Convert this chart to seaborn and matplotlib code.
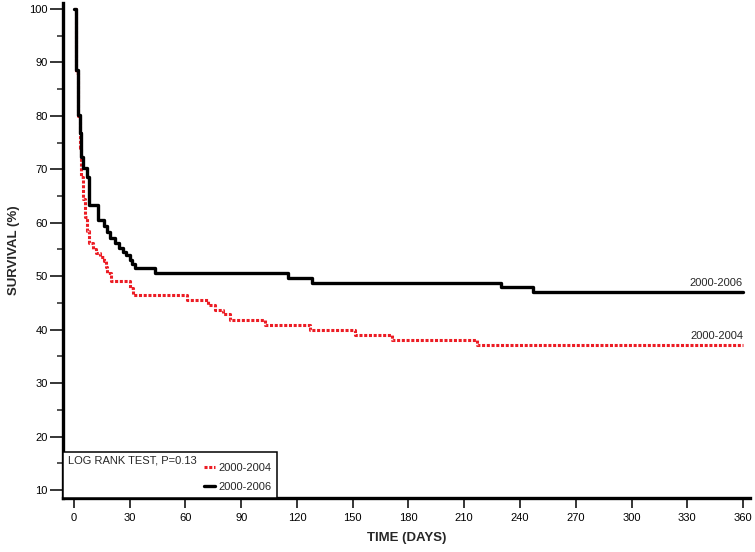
import matplotlib
matplotlib.use("Agg")
import matplotlib.pyplot as plt
from matplotlib.lines import Line2D
from matplotlib.patches import Rectangle
import seaborn as sns
import pandas as pd

# --- DADOS ---
days_2006 = [0, 1, 2, 3, 4, 5, 7, 8, 13, 16, 18, 19.5, 22, 24.5, 26.5, 28, 30, 31.5, 33,
             43.5, 115, 128, 230, 247, 360]
surv_2006 = [100, 88.6, 80.2, 76.8, 72.3, 70.2, 68.6, 63.3, 60.5, 59.3, 58.2, 57.1, 56.2, 55.2,
             54.6, 54.0, 53.0, 52.3, 51.6, 50.6, 49.7, 48.7, 47.9, 47.0, 47.0]

days_2004 = [0, 1, 2, 3, 4, 5, 6, 7, 8, 10, 12, 14, 16, 17, 18, 20, 30, 32, 61, 72, 76, 80,
             84, 103, 127, 151, 171, 217, 360]
surv_2004 = [100, 88.0, 80.0, 74.0, 68.5, 64.5, 61.0, 58.5, 56.2, 55.0, 54.3, 53.5, 52.8, 51.8,
             50.6, 49.1, 47.8, 46.4, 45.5, 44.6, 43.7, 43.0, 41.8, 40.9, 39.9, 39.0, 38.1, 37.1,
             37.1]

x_ticks = list(range(0, 361, 30))
y_ticks = list(range(10, 101, 10))
y_minor = list(range(15, 100, 10))

RED = "#ec1c24"

sns.set_style("ticks")
plt.rcParams["font.family"] = ["Liberation Sans", "DejaVu Sans"]

df_2006 = pd.DataFrame({"dias": days_2006, "sobrevida": surv_2006})
df_2004 = pd.DataFrame({"dias": days_2004, "sobrevida": surv_2004})

fig = plt.figure(figsize=(7.55, 5.52), dpi=100)
ax = fig.add_axes([0.0834, 0.0978, 0.9096, 0.8968])

sns.lineplot(data=df_2004, x="dias", y="sobrevida", ax=ax, color=RED, lw=2.2,
             linestyle=(0, (1, 0.55)), drawstyle="steps-post", estimator=None, zorder=2)
sns.lineplot(data=df_2006, x="dias", y="sobrevida", ax=ax, color="black", lw=2.4,
             drawstyle="steps-post", estimator=None, zorder=3)

ax.set_xlim(-5.9, 363.6)
ax.set_ylim(8.5, 101.1)
ax.set_xticks(x_ticks)
ax.set_yticks(y_ticks)
ax.set_yticks(y_minor, minor=True)

sns.despine(ax=ax)
for side in ["left", "bottom"]:
    ax.spines[side].set_linewidth(2.4)
    ax.spines[side].set_color("black")

ax.tick_params(axis="x", direction="out", length=7, width=1.1, pad=4, labelsize=8, colors="black")
ax.tick_params(axis="y", which="major", direction="out", length=9.4, width=1.1, pad=1.5,
               labelsize=8, colors="black")
ax.tick_params(axis="y", which="minor", direction="out", length=4.5, width=1.1)

ax.set_xlabel("TIME (DAYS)", fontsize=9.5, fontweight="bold", labelpad=6)
ax.set_ylabel("SURVIVAL (%)", fontsize=9.5, fontweight="bold", labelpad=7)

# rótulos no fim das curvas
ax.text(360, 48.7, "2000-2006", ha="right", va="center", fontsize=8)
ax.text(360, 38.8, "2000-2004", ha="right", va="center", fontsize=8)

# caixa da legenda
box = Rectangle((0, 0), 0.311, 0.0935, transform=ax.transAxes, facecolor="white",
                edgecolor="black", lw=1.1, zorder=4, clip_on=False)
ax.add_patch(box)
ax.text(0.007, 0.0754, "LOG RANK TEST, P=0.13", transform=ax.transAxes, fontsize=8,
        ha="left", va="center", zorder=5)
handles = [Line2D([], [], color=RED, lw=2.2, linestyle=(0, (1, 0.55))),
           Line2D([], [], color="black", lw=2.4)]
leg = ax.legend(handles, ["2000-2004", "2000-2006"], loc="lower left",
                bbox_to_anchor=(0.205, 0.012), frameon=False, fontsize=8,
                handlelength=1.0, handletextpad=0.35, labelspacing=0.8,
                borderpad=0, borderaxespad=0)
leg.set_zorder(6)

fig.savefig("out.png", dpi=100)
